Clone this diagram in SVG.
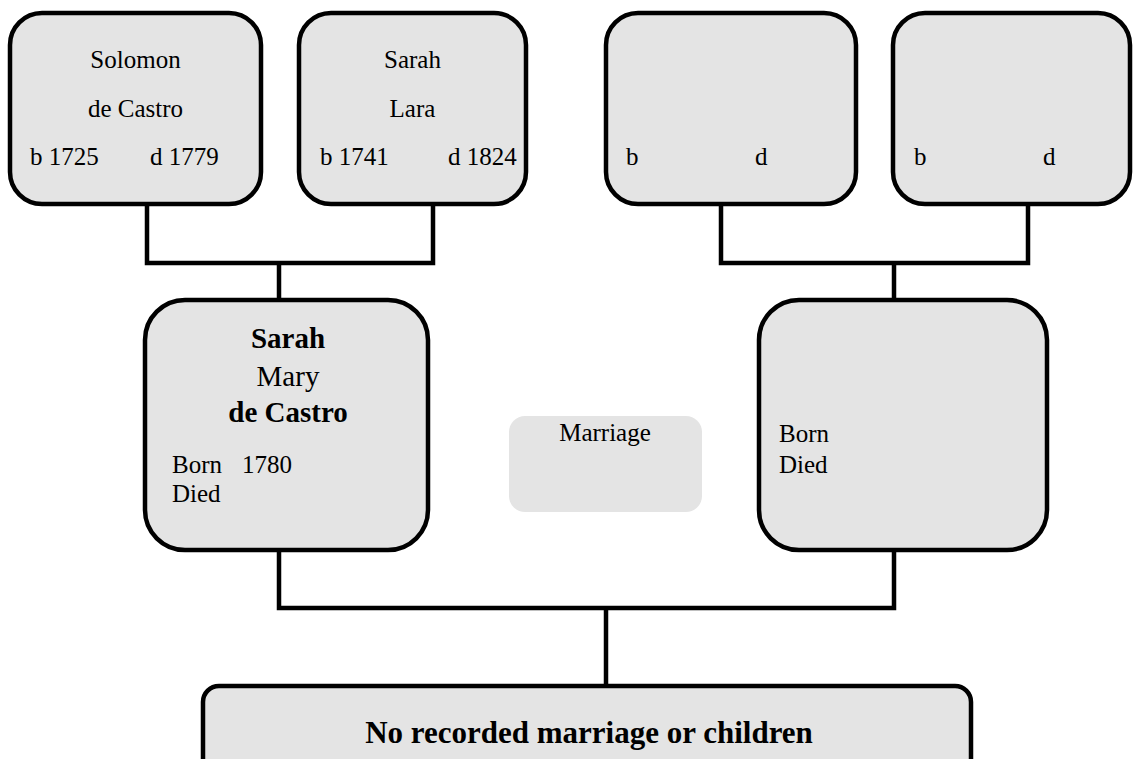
<svg xmlns="http://www.w3.org/2000/svg" width="1134" height="759" viewBox="0 0 1134 759" font-family="'Liberation Serif', 'DejaVu Serif', serif">
  <style>
    .box { fill: #e4e4e4; stroke: #000; stroke-width: 4.5; }
    .soft { fill: #e4e4e4; stroke: none; }
    .link { fill: none; stroke: #000; stroke-width: 4.5; stroke-linejoin: miter; }
    .t { font-size: 25px; }
    .c { text-anchor: middle; }
    .big { font-size: 29px; }
    .b { font-weight: bold; }
  </style>
  <rect width="1134" height="759" fill="#fff"/>

  <!-- connectors -->
  <g id="connectors">
    <path class="link" d="M147 205 V263 H433 V205"/>
    <path class="link" d="M279 263 V300"/>
    <path class="link" d="M721 205 V263 H1028 V205"/>
    <path class="link" d="M894 263 V300"/>
    <path class="link" d="M279 550 V608 H894 V550"/>
    <path class="link" d="M606 608 V686"/>
  </g>

  <g id="solomon" font-family="Liberation Serif, serif">
    <rect class="box" x="10" y="13" width="251" height="191" rx="32"/>
    <text class="t c" x="135.5" y="68">Solomon</text>
    <text class="t c" x="135.5" y="117">de Castro</text>
    <text class="t" x="30" y="165">b 1725</text>
    <text class="t" x="150" y="165">d 1779</text>
  </g>

  <g id="sarah-lara" font-family="Liberation Serif, serif">
    <rect class="box" x="299" y="13" width="227" height="191" rx="32"/>
    <text class="t c" x="412.5" y="68">Sarah</text>
    <text class="t c" x="412.5" y="117">Lara</text>
    <text class="t" x="320" y="165">b 1741</text>
    <text class="t" x="448" y="165">d 1824</text>
  </g>

  <g id="parent-3" font-family="Liberation Serif, serif">
    <rect class="box" x="606" y="13" width="250" height="191" rx="32"/>
    <text class="t" x="626" y="165">b</text>
    <text class="t" x="755" y="165">d</text>
  </g>

  <g id="parent-4" font-family="Liberation Serif, serif">
    <rect class="box" x="893" y="13" width="237" height="191" rx="32"/>
    <text class="t" x="914" y="165">b</text>
    <text class="t" x="1043" y="165">d</text>
  </g>

  <g id="sarah-mary" font-family="Liberation Serif, serif">
    <rect class="box" x="145" y="300" width="283" height="250" rx="40"/>
    <text class="big b c" x="288" y="348">Sarah</text>
    <text class="big c" x="288" y="386">Mary</text>
    <text class="big b c" x="288" y="422">de Castro</text>
    <text class="t" x="172" y="473">Born<tspan x="242">1780</tspan></text>
    <text class="t" x="172" y="502">Died</text>
  </g>

  <g id="spouse" font-family="Liberation Serif, serif">
    <rect class="box" x="759" y="300" width="288" height="250" rx="40"/>
    <text class="t" x="779" y="442">Born</text>
    <text class="t" x="779" y="473">Died</text>
  </g>

  <g id="marriage" font-family="Liberation Serif, serif">
    <rect class="soft" x="509" y="416" width="193" height="96" rx="16"/>
    <text class="t c" x="605" y="441">Marriage</text>
  </g>

  <g id="children" font-family="Liberation Serif, serif">
    <rect class="box" x="203" y="686" width="768" height="100" rx="16"/>
    <text class="b c" x="589" y="743" font-size="31">No recorded marriage or children</text>
  </g>
</svg>
